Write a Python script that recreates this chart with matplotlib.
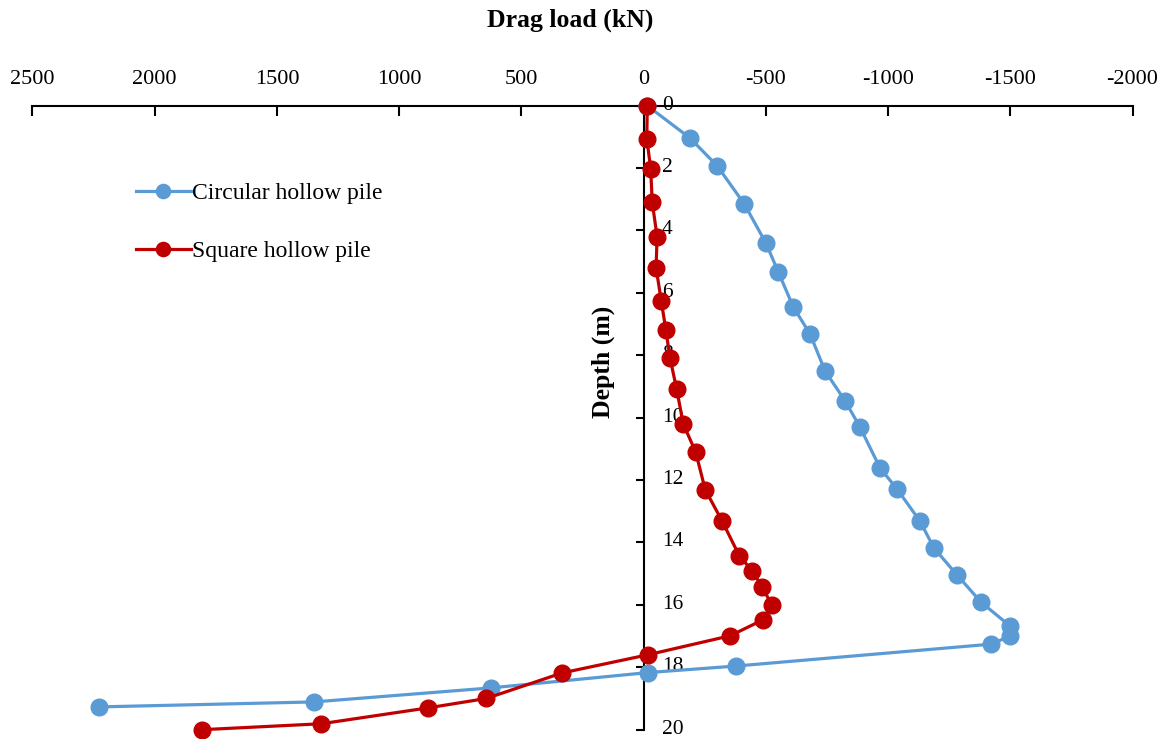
import matplotlib.pyplot as plt
import matplotlib.transforms as mtransforms

plt.rcParams['font.family'] = ['Liberation Serif', 'DejaVu Serif']

# Circular hollow pile: drag load (kN) vs depth (m)
circ_load = [-15, -190, -301, -411, -500, -551, -612, -681, -742, -824, -885, -967,
             -1036, -1130, -1188, -1282, -1380, -1499, -1499, -1420, -378, -17,
             624, 1348, 2228]
circ_depth = [0, 1.04, 1.93, 3.14, 4.40, 5.33, 6.45, 7.32, 8.50, 9.46, 10.30, 11.61,
              12.28, 13.31, 14.18, 15.04, 15.91, 16.68, 17.0, 17.26, 17.96, 18.17,
              18.66, 19.11, 19.27]

# Square hollow pile
sq_load = [-15, -13, -29, -35, -55, -51, -72, -91, -108, -135, -162, -213, -252,
           -321, -391, -443, -485, -524, -488, -354, -17, 333, 644, 881, 1319, 1806]
sq_depth = [0, 1.06, 2.03, 3.08, 4.2, 5.2, 6.25, 7.19, 8.09, 9.08, 10.2, 11.1, 12.31,
            13.31, 14.42, 14.9, 15.42, 16.0, 16.48, 16.99, 17.6, 18.18, 19.0, 19.3,
            19.81, 20.0]

x_ticks = [2500, 2000, 1500, 1000, 500, 0, -500, -1000, -1500, -2000]
y_ticks = [0, 2, 4, 6, 8, 10, 12, 14, 16, 18, 20]

fig = plt.figure(figsize=(11.69, 7.39), dpi=100)
ax = fig.add_axes([0.0278, 0.0126, 0.941, 0.8444])

ax.plot(circ_load, circ_depth, '-o', color='#5B9BD5', lw=2.3, ms=12,
        label='Circular hollow pile', clip_on=False, zorder=3)
ax.plot(sq_load, sq_depth, '-o', color='#C00000', lw=2.3, ms=12,
        label='Square hollow pile', clip_on=False, zorder=4)

ax.set_xlim(2500, -2000)
ax.set_ylim(20, 0)

# x axis on top, y axis through zero
ax.spines['left'].set_visible(False)
ax.spines['bottom'].set_visible(False)
ax.spines['right'].set_position(('data', 0))
ax.spines['top'].set_linewidth(1.5)
ax.spines['right'].set_linewidth(1.5)

ax.xaxis.set_ticks_position('top')
ax.set_xticks(x_ticks)
ax.set_xticklabels([str(v) for v in x_ticks])
ax.tick_params(axis='x', direction='in', length=7, width=1.5, pad=12, labelsize=16)

ax.yaxis.set_ticks_position('right')
ax.set_yticks(y_ticks)
ax.tick_params(axis='y', direction='in', length=6, width=1.5, pad=13, labelsize=15.5)
# nudge depth labels up a little so "20" stays inside the figure
shift = mtransforms.ScaledTranslation(0, 3 / 100, fig.dpi_scale_trans)
for lab in ax.get_yticklabels():
    lab.set_transform(lab.get_transform() + shift)

ax.text(165, 8.2, 'Depth (m)', rotation=90, ha='center', va='center',
        fontsize=18.5, fontweight='bold')
fig.text(570 / 1169, 1 - 20 / 739, 'Drag load (kN)', ha='center', va='center',
         fontsize=18.5, fontweight='bold')

ax.legend(loc='upper left', bbox_to_anchor=(115 / 1169, 1 - 161 / 739),
          bbox_transform=fig.transFigure, frameon=False, fontsize=17,
          handlelength=2.3, handletextpad=0.05, labelspacing=1.55, markerscale=0.85)

fig.savefig('out.png', dpi=100)
